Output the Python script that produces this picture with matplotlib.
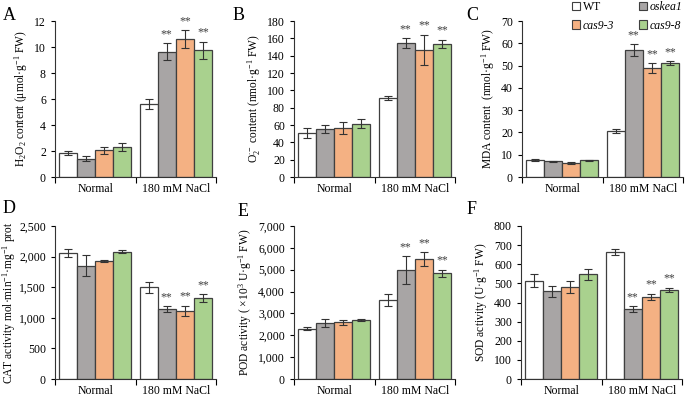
import matplotlib

matplotlib.use("Agg")
import matplotlib.pyplot as plt
from matplotlib.patches import Patch
from matplotlib.ticker import FuncFormatter
import numpy as np

plt.rcParams["font.family"] = ["Liberation Serif", "DejaVu Serif"]
plt.rcParams["mathtext.fontset"] = "custom"
plt.rcParams["mathtext.rm"] = "Liberation Serif"
plt.rcParams["mathtext.it"] = "Liberation Serif:italic"
plt.rcParams["font.size"] = 8.5

groups = ["Normal", "180 mM NaCl"]
lines = ["WT", "oskea1", "cas9-3", "cas9-8"]
colors = ["#FFFFFF", "#A8A5A5", "#F4B183", "#A9D18E"]
EDGE = "#3F3F3F"

# values[group][line], errors[group][line]
h2o2 = [[1.85, 1.4, 2.05, 2.3], [5.6, 9.65, 10.6, 9.75]]
h2o2_err = [[0.15, 0.2, 0.25, 0.3], [0.4, 0.65, 0.7, 0.65]]
o2 = [[51, 55.5, 56.5, 61.5], [91.5, 154.5, 146.5, 153.5]]
o2_err = [[6, 5, 7, 5], [2.5, 5.5, 17.5, 5]]
mda = [[7.8, 7.0, 6.3, 7.6], [20.6, 57.0, 48.8, 51.2]]
mda_err = [[0.4, 0.4, 0.3, 0.2], [1.0, 2.5, 2.2, 0.8]]
cat = [[2060, 1850, 1930, 2080], [1500, 1145, 1115, 1320]]
cat_err = [[60, 170, 15, 20], [90, 45, 85, 65]]
pod = [[2300, 2570, 2600, 2700], [3600, 4970, 5480, 4830]]
pod_err = [[80, 170, 120, 40], [270, 640, 330, 170]]
sod = [[515, 458, 483, 547], [665, 365, 430, 466]]
sod_err = [[35, 30, 32, 30], [15, 17, 15, 12]]

# significance marks: only the three mutants under NaCl
stars = [[False] * 4, [False, True, True, True]]

W, H = 685, 398


def px_axes(fig, left, top, bottom, width=161):
    return fig.add_axes([left / W, 1 - bottom / H, width / W, (bottom - top) / H])


def panel(ax, vals, errs, ymax, step, ylabel, thousands=False, labelpad=3):
    bw = 0.225
    offs = (np.arange(4) - 1.5) * bw
    for gi in range(2):
        for li in range(4):
            x = gi + offs[li]
            v, e = vals[gi][li], errs[gi][li]
            ax.bar(x, v, bw, color=colors[li], edgecolor=EDGE, linewidth=0.9)
            ax.errorbar(x, v, yerr=e, color="#333333", capsize=3,
                        elinewidth=0.8, capthick=0.8)
            if stars[gi][li]:
                ax.text(x, v + e + ymax * 0.02, "**", ha="center",
                        va="bottom", fontsize=8.5, color="#404040")
    ax.set_xlim(-0.5, 1.5)
    ax.set_ylim(0, ymax)
    ax.set_yticks(np.arange(0, ymax + step / 2, step))
    if thousands:
        ax.yaxis.set_major_formatter(FuncFormatter(lambda v, p: f"{int(v):,}"))
    ax.set_xticks([0, 1])
    ax.set_xticklabels(groups)
    ax.set_xticks([-0.5, 0.5, 1.5], minor=True)
    ax.tick_params(axis="x", which="major", length=0, pad=4)
    ax.tick_params(axis="x", which="minor", length=4, direction="out",
                   width=0.8)
    ax.tick_params(axis="y", length=3, direction="out", width=0.8)
    for s in ("top", "right"):
        ax.spines[s].set_visible(False)
    for s in ("left", "bottom"):
        ax.spines[s].set_linewidth(0.8)
        ax.spines[s].set_color("#333333")
    ax.set_ylabel(ylabel, fontsize=8.3, labelpad=labelpad)


fig = plt.figure(figsize=(W / 100, H / 100), dpi=100)

axA = px_axes(fig, 55, 21, 177)
panel(axA, h2o2, h2o2_err, 12, 2,
      r"H$_2$O$_2$ content (μmol·g$^{-1}$ FW)")
axB = px_axes(fig, 294, 21, 177)
panel(axB, o2, o2_err, 180, 20,
      r"O$_2^{\cdot-}$ content (nmol·g$^{-1}$ FW)")
axC = px_axes(fig, 522, 21, 177)
panel(axC, mda, mda_err, 70, 10,
      r"MDA content  (nmol·g$^{-1}$ FW)")
axD = px_axes(fig, 55, 226, 379)
panel(axD, cat, cat_err, 2500, 500,
      r"CAT activity mol·min$^{-1}$·mg$^{-1}$ prot", thousands=True,
      labelpad=1)
axE = px_axes(fig, 294, 226, 379)
panel(axE, pod, pod_err, 7000, 1000,
      r"POD activity ( ×10$^3$ U·g$^{-1}$ FW)", thousands=True)
axF = px_axes(fig, 521, 226, 379)
panel(axF, sod, sod_err, 800, 100,
      r"SOD activity (U·g$^{-1}$ FW)")

for lab, x, y in [("A", 3, 15), ("B", 233, 15), ("C", 466, 15),
                  ("D", 3, 208), ("E", 238, 212), ("F", 467, 210)]:
    fig.text(x / W, 1 - y / H, lab, fontsize=13, va="center", ha="left")

# column-major fill: WT, cas9-3 | oskea1, cas9-8
order = [0, 2, 1, 3]
handles = [Patch(facecolor=colors[i], edgecolor=EDGE, linewidth=0.8)
           for i in order]
leg = fig.legend(handles, [lines[i] for i in order], ncol=2,
                 loc="upper left", bbox_to_anchor=(565 / W, 1.0 + 6 / H),
                 frameon=False, fontsize=8.5, handlelength=0.7,
                 handleheight=0.7, handletextpad=0.2, columnspacing=2.1,
                 labelspacing=0.55, borderpad=0.1)
for t in leg.get_texts():
    if t.get_text() != "WT":
        t.set_fontstyle("italic")

fig.savefig("out.png", dpi=100, facecolor="white")
